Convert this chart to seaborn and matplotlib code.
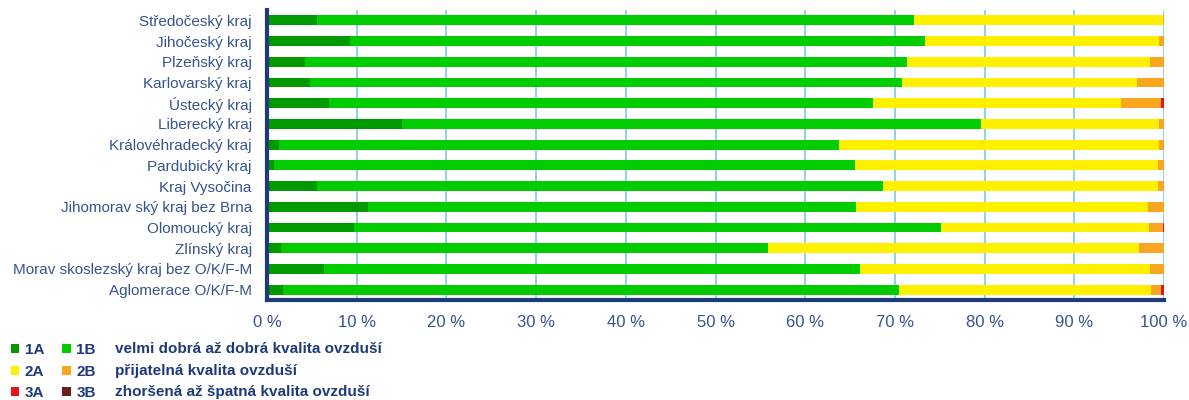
import numpy as np
import pandas as pd
import matplotlib
matplotlib.use("Agg")
import matplotlib.pyplot as plt
from matplotlib.patches import Patch
import seaborn as sns

# ------------------------------------------------------------
# data (share of area, %)
# ------------------------------------------------------------
regions = ["Středočeský kraj", "Jihočeský kraj", "Plzeňský kraj", "Karlovarský kraj",
           "Ústecký kraj", "Liberecký kraj", "Královéhradecký kraj", "Pardubický kraj",
           "Kraj Vysočina", "Jihomorav ský kraj bez Brna", "Olomoucký kraj", "Zlínský kraj",
           "Morav skoslezský kraj bez O/K/F-M", "Aglomerace O/K/F-M"]

class_1A = [5.6, 9.2, 4.2, 4.8, 6.9, 15.1, 1.3, 0.8, 5.6, 11.2, 9.7, 1.5, 6.4, 1.8]
class_1B = [66.5, 64.1, 67.2, 66.0, 60.7, 64.5, 62.5, 64.8, 63.1, 54.5, 65.4, 54.3, 59.7, 68.6]
class_2A = [27.8, 26.1, 27.0, 26.2, 27.6, 19.8, 35.6, 33.7, 30.6, 32.5, 23.2, 41.4, 32.3, 28.1]
class_2B = [0.1, 0.6, 1.6, 3.0, 4.5, 0.6, 0.6, 0.7, 0.7, 1.8, 1.6, 2.8, 1.6, 1.2]
class_3A = [0.0, 0.0, 0.0, 0.0, 0.3, 0.0, 0.0, 0.0, 0.0, 0.0, 0.1, 0.0, 0.0, 0.3]
class_3B = [0.0] * 14

class_names = ["1A", "1B", "2A", "2B", "3A", "3B"]
class_colors = ["#009a00", "#00cc00", "#fff000", "#f8a51f", "#e8141c", "#6b1e1e"]
descriptions = ["velmi dobrá až dobrá kvalita ovzduší",
                "přijatelná kvalita ovzduší",
                "zhoršená až špatná kvalita ovzduší"]

df = pd.DataFrame({"region": regions, "1A": class_1A, "1B": class_1B, "2A": class_2A,
                   "2B": class_2B, "3A": class_3A, "3B": class_3B})

# cumulative sums so the bars can be layered into a stacked look
cum = df[class_names].cumsum(axis=1)

# ------------------------------------------------------------
# plot
# ------------------------------------------------------------
sns.set_style("white")
plt.rcParams["font.family"] = ["Liberation Sans", "DejaVu Sans"]

NAVY = "#1f3a78"
LABEL = "#35538f"

fig = plt.figure(figsize=(11.89, 4.0), dpi=100)
ax = fig.add_axes([0.2246, 0.25, 0.7544, 0.725])

# draw from the widest (total) to the narrowest so each class stays visible
for name, color in zip(class_names[::-1], class_colors[::-1]):
    sns.barplot(x=cum[name], y=df["region"], orient="h", color=color,
                saturation=1, width=0.48, ax=ax, linewidth=0)

ax.set_xlim(0, 100)
ax.set_xticks(np.arange(0, 101, 10))
ax.set_xticklabels([f"{v} %" for v in range(0, 101, 10)])
ax.set_xlabel("")
ax.set_ylabel("")

ax.xaxis.grid(True, color="#86cfdf", linewidth=1.3)
ax.yaxis.grid(False)
ax.set_axisbelow(True)

for side in ["top", "right"]:
    ax.spines[side].set_visible(False)
for side in ["left", "bottom"]:
    ax.spines[side].set_color(NAVY)
    ax.spines[side].set_linewidth(3)

ax.tick_params(axis="x", length=0, pad=11, labelsize=12, labelcolor=LABEL)
ax.tick_params(axis="y", length=0, pad=11, labelsize=11, labelcolor=LABEL)

# legend: two columns of class swatches plus a text description per row
handles = [Patch(facecolor=class_colors[i], edgecolor="none") for i in [0, 2, 4, 1, 3, 5]]
labels = [class_names[i] for i in [0, 2, 4, 1, 3, 5]]
fig.legend(handles, labels, ncol=2, loc="upper left", bbox_to_anchor=(0.004, 0.158),
           frameon=False, handlelength=0.55, handleheight=0.55, handletextpad=0.35,
           columnspacing=1.2, labelspacing=0.5,
           prop={"weight": "bold", "size": 11}, labelcolor=NAVY, borderaxespad=0)

for i, txt in enumerate(descriptions):
    fig.text(0.097, 0.127 - i * 0.054, txt, fontsize=11, fontweight="bold",
             color=NAVY, va="center", ha="left")

fig.savefig("out.png", dpi=100)
plt.close(fig)
